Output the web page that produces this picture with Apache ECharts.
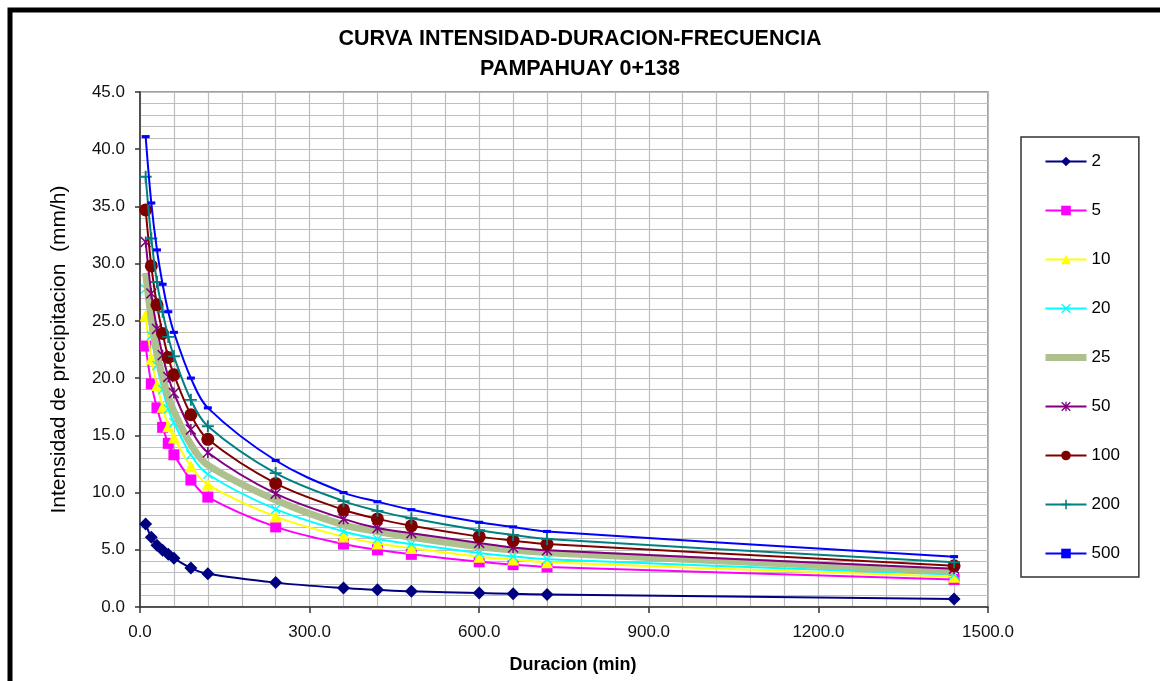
<!DOCTYPE html>
<html>
<head>
<meta charset="utf-8">
<script src="https://cdn.jsdelivr.net/npm/echarts@6/dist/echarts.min.js"></script>
<style>
html,body{margin:0;padding:0;background:#fff;}
#chart{width:1160px;height:681px;}
</style>
</head>
<body>
<div id="chart"></div>
<script>
var durations = [10,20,30,40,50,60,90,120,240,360,420,480,600,660,720,1440];
var seriesNames = ['2','5','10','20','25','50','100','200','500'];
var T2   = [7.25,6.1,5.4,4.95,4.6,4.25,3.4,2.9,2.13,1.65,1.5,1.37,1.22,1.15,1.1,0.7];
var T5   = [22.8,19.5,17.4,15.7,14.3,13.3,11.1,9.6,7.0,5.5,5.0,4.6,3.95,3.7,3.5,2.4];
var T10  = [25.5,21.7,19.4,17.5,15.8,14.8,12.3,10.7,7.9,6.15,5.55,5.15,4.4,4.15,3.9,2.65];
var T20  = [27.8,23.7,21.1,19.0,17.3,16.1,13.3,11.6,8.55,6.6,5.95,5.5,4.72,4.42,4.17,2.85];
var T25  = [29.2,25.1,22.2,20.1,18.4,17.1,14.2,12.4,9.35,7.17,6.6,6.1,5.27,4.98,4.75,3.1];
var T50  = [31.9,27.4,24.3,22.0,20.1,18.7,15.5,13.5,9.9,7.7,6.9,6.45,5.6,5.2,4.95,3.35];
var T100 = [34.7,29.8,26.4,23.9,21.8,20.3,16.8,14.65,10.8,8.5,7.7,7.1,6.15,5.8,5.5,3.6];
var T200 = [37.6,32.2,28.4,25.8,23.6,21.9,18.1,15.8,11.7,9.25,8.4,7.75,6.7,6.3,5.95,3.9];
var T500 = [41.1,35.3,31.2,28.2,25.8,24.0,20.0,17.4,12.8,10.0,9.2,8.5,7.4,7.0,6.6,4.4];
var values = [T2,T5,T10,T20,T25,T50,T100,T200,T500];

var FONT = '"Liberation Sans", Arial, sans-serif';
var colors = ['#000080','#FF00FF','#FFFF00','#00FFFF','#ADC08E','#800080','#800000','#008080','#0000FF'];
var symX = 'path://M1,0L5,4L9,0L10,1L6,5L10,9L9,10L5,6L1,10L0,9L4,5L0,1Z';
var symPlus = 'path://M4.2,0H5.8V4.2H10V5.8H5.8V10H4.2V5.8H0V4.2H4.2Z';
var symAst = 'path://M1,0L5,4L9,0L10,1L6,5L10,9L9,10L5,6L1,10L0,9L4,5L0,1Z M4.3,0H5.7V10H4.3Z';
var symDash = 'path://M0,0H8V5H0Z';
var symbols = ['diamond','rect','triangle',symX,'none',symAst,'circle',symPlus,symDash];
var symbolSizes = [13,11,12,10,0,11,13,12,[8,5]];
var widths = [2,2,2,2,7,2,2,2,2];

function pairs(arr){ return durations.map(function(d,i){ return [d, arr[i]]; }); }

var series = seriesNames.map(function(n,i){
  return {
    name: n,
    type: 'line',
    data: pairs(values[i]),
    smooth: 0.35,
    symbol: symbols[i],
    symbolSize: symbolSizes[i],
    symbolKeepAspect: true,
    showSymbol: symbols[i] !== 'none',
    lineStyle: {color: colors[i], width: widths[i]},
    itemStyle: {color: colors[i], borderWidth: 0},
    emphasis: {disabled: true},
    z: 2 + i
  };
});

var legendData = seriesNames.map(function(n,i){
  if (n === '25') return {name: n, itemStyle: {opacity: 0}, lineStyle: {width: 7, color: colors[i]}};
  return {name: n};
});

var chart = echarts.init(document.getElementById('chart'), null, {renderer:'canvas'});
chart.setOption({
  animation: false,
  backgroundColor: '#fff',
  textStyle: {fontFamily: FONT},
  title: [{
    text: 'CURVA INTENSIDAD-DURACION-FRECUENCIA',
    left: 'center',
    top: 28,
    padding: [0,0,0,12],
    textStyle: {fontFamily: FONT, fontSize: 21.5, fontWeight: 'bold', color: '#000'}
  },{
    text: 'PAMPAHUAY 0+138',
    left: 'center',
    top: 58,
    padding: [0,0,0,12],
    textStyle: {fontFamily: FONT, fontSize: 21.5, fontWeight: 'bold', color: '#000'}
  }],
  graphic: [{
    type: 'rect',
    shape: {x: 10, y: 10, width: 1180, height: 700},
    style: {fill: 'none', stroke: '#000', lineWidth: 5},
    silent: true
  }],
  legend: {
    orient: 'vertical',
    left: 1021,
    top: 137,
    padding: [16, 19, 15, 21],
    itemWidth: 41,
    itemHeight: 12,
    itemGap: 32,
    backgroundColor: '#fff',
    borderColor: '#333',
    borderWidth: 1.5,
    borderRadius: 0,
    textStyle: {fontFamily: FONT, fontSize: 17, color: '#000'},
    data: legendData
  },
  grid: {
    left: 140, top: 92, right: 172, bottom: 74,
    show: true, borderColor: '#808080', borderWidth: 1.5, backgroundColor: '#fff'
  },
  xAxis: {
    type: 'value',
    min: 0, max: 1500, interval: 300,
    name: 'Duracion (min)',
    nameLocation: 'middle',
    nameGap: 49,
    nameTextStyle: {fontFamily: FONT, fontSize: 18, fontWeight: 'bold', color: '#000', padding: [0,0,0,18], verticalAlign: 'top'},
    axisLine: {show: true, onZero: false, lineStyle: {color: '#333', width: 1.5}},
    axisTick: {show: true, length: 6, lineStyle: {color: '#333', width: 1.5}},
    axisLabel: {fontFamily: FONT, fontSize: 17, color: '#111', margin: 17, formatter: function(v){ return v.toFixed(1); }},
    splitLine: {show: true, lineStyle: {color: '#bdbdbd', width: 1.2}},
    minorTick: {show: false, splitNumber: 5},
    minorSplitLine: {show: true, lineStyle: {color: '#bdbdbd', width: 1.2}}
  },
  yAxis: {
    type: 'value',
    min: 0, max: 45, interval: 5,
    name: 'Intensidad de precipitacion  (mm/h)',
    nameLocation: 'middle',
    nameGap: 70,
    nameTextStyle: {fontFamily: FONT, fontSize: 21, color: '#000'},
    axisLine: {show: true, lineStyle: {color: '#333', width: 1.5}},
    axisTick: {show: true, length: 5, lineStyle: {color: '#333', width: 1.5}},
    axisLabel: {fontFamily: FONT, fontSize: 17, color: '#111', margin: 15, formatter: function(v){ return v.toFixed(1); }},
    splitLine: {show: true, lineStyle: {color: '#bdbdbd', width: 1.2}},
    minorTick: {show: false, splitNumber: 5},
    minorSplitLine: {show: true, lineStyle: {color: '#bdbdbd', width: 1.2}}
  },
  series: series
});
</script>
</body>
</html>
